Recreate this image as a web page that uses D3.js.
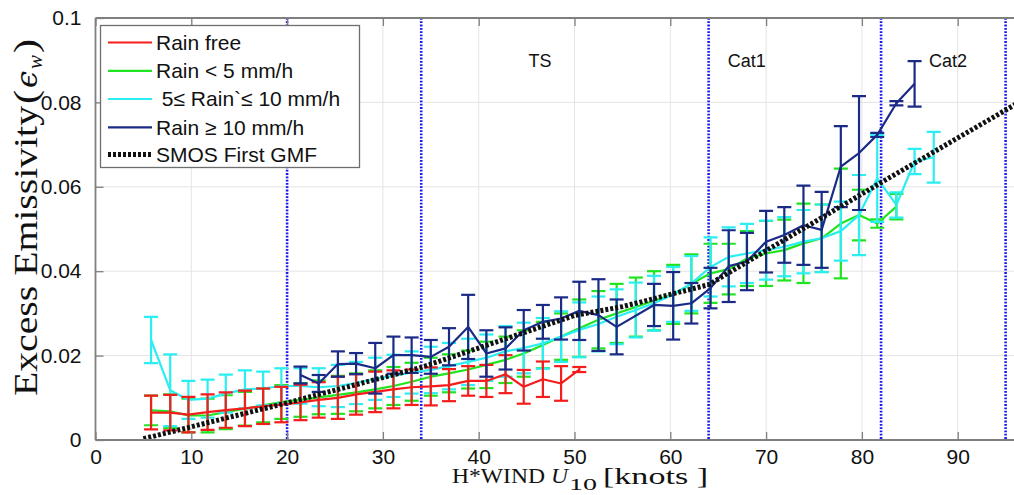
<!DOCTYPE html>
<html>
<head>
<meta charset="utf-8">
<script src="https://cdn.jsdelivr.net/npm/d3@7"></script>
<style>
  html, body { margin: 0; padding: 0; background: #fff; }
  svg { display: block; }
  text { white-space: pre; }
</style>
</head>
<body>
<svg id="chart" width="1014" height="495"></svg>
<script>
// ---------------- DATA ----------------
// wind-speed bins (knots)
const xKnots = [5.8, 7.8, 9.7, 11.7, 13.6, 15.6, 17.5, 19.4, 21.4, 23.3, 25.3, 27.2, 29.2, 31.1, 33.0,
  35.0, 36.9, 38.9, 40.8, 42.8, 44.7, 46.7, 48.6, 50.5, 52.5, 54.4, 56.4, 58.3, 60.3, 62.2,
  64.2, 66.1, 68.0, 70.0, 71.9, 73.9, 75.8, 77.8, 79.7, 81.6, 83.6, 85.5, 87.5];

const rainFreeX = xKnots.slice(0, 24);
const rainFreeVal = [0.0065, 0.0065, 0.0060, 0.0066, 0.0071, 0.0075, 0.0080, 0.0084, 0.0089, 0.0095,
  0.0100, 0.0108, 0.0114, 0.0120, 0.0125, 0.0127, 0.0130, 0.0140, 0.0140, 0.0156,
  0.0126, 0.0144, 0.0134, 0.0167];
const rainFreeErr = [0.0040, 0.0042, 0.0042, 0.0042, 0.0042, 0.0042, 0.0042, 0.0042, 0.0042, 0.0042,
  0.0050, 0.0048, 0.0048, 0.0045, 0.0042, 0.0045, 0.0038, 0.0035, 0.0038, 0.0045,
  0.0040, 0.0042, 0.0041, 0.0006];

const rainLt5X = xKnots.slice(0, 41);
const rainLt5Val = [0.0070, 0.0068, 0.0058, 0.0058, 0.0066, 0.0074, 0.0082, 0.0090, 0.0095, 0.0101,
  0.0107, 0.0113, 0.0120, 0.0128, 0.0138, 0.0150, 0.0158, 0.0167, 0.0178, 0.0190,
  0.0205, 0.0225, 0.0245, 0.0265, 0.0285, 0.0300, 0.0315, 0.0330, 0.0345, 0.0370,
  0.0395, 0.0405, 0.0430, 0.0442, 0.0450, 0.0466, 0.0478, 0.0513, 0.0533, 0.0513, 0.0553];
const rainLt5Err = [0.0035, 0.0040, 0.0040, 0.0040, 0.0040, 0.0040, 0.0040, 0.0040, 0.0040, 0.0040,
  0.0045, 0.0045, 0.0045, 0.0045, 0.0045, 0.0045, 0.0045, 0.0045, 0.0055, 0.0055,
  0.0055, 0.0055, 0.0055, 0.0068, 0.0068, 0.0070, 0.0070, 0.0070, 0.0070, 0.0070,
  0.0070, 0.0060, 0.0065, 0.0077, 0.0072, 0.0094, 0.0080, 0.0130, 0.0060, 0.0010, 0.0030];

const rain5to10X = xKnots.slice(0, 43);
const rain5to10Val = [0.0237, 0.0118, 0.0095, 0.0098, 0.0110, 0.0120, 0.0122, 0.0128, 0.0128, 0.0125,
  0.0128, 0.0135, 0.0145, 0.0152, 0.0160, 0.0166, 0.0175, 0.0185, 0.0195, 0.0210,
  0.0218, 0.0229, 0.0245, 0.0261, 0.0275, 0.0292, 0.0308, 0.0324, 0.0345, 0.0371,
  0.0410, 0.0434, 0.0442, 0.0450, 0.0458, 0.0470, 0.0478, 0.0495, 0.0533, 0.0620,
  0.0557, 0.0660, 0.0670];
const rain5to10Err = [0.0055, 0.0085, 0.0045, 0.0045, 0.0045, 0.0045, 0.0040, 0.0042, 0.0042, 0.0045,
  0.0050, 0.0050, 0.0050, 0.0050, 0.0050, 0.0055, 0.0055, 0.0055, 0.0055, 0.0060,
  0.0060, 0.0060, 0.0060, 0.0065, 0.0065, 0.0065, 0.0065, 0.0065, 0.0065, 0.0065,
  0.0070, 0.0070, 0.0070, 0.0070, 0.0070, 0.0075, 0.0080, 0.0070, 0.0095, 0.0103,
  0.0030, 0.0030, 0.0060];

const rainGe10X = [21.4, 23.3, 25.3, 27.2, 29.2, 31.1, 33.0, 35.0, 36.9, 38.9, 40.8, 42.8, 44.7, 46.7,
  48.6, 50.5, 52.5, 54.4, 58.3, 60.3, 62.2, 64.2, 66.1, 68.0, 70.0, 71.9, 73.9, 75.8, 77.8,
  79.7, 81.6, 83.6, 85.5];
const rainGe10Val = [0.0154, 0.0134, 0.0180, 0.0181, 0.0170, 0.0201, 0.0201, 0.0197, 0.0221, 0.0268,
  0.0205, 0.0217, 0.0260, 0.0280, 0.0288, 0.0306, 0.0296, 0.0268, 0.0320, 0.0318,
  0.0324, 0.0360, 0.0412, 0.0423, 0.0470, 0.0486, 0.0509, 0.0498, 0.0648, 0.0680,
  0.0723, 0.0798, 0.0844];
const rainGe10Err = [0.0020, 0.0020, 0.0030, 0.0025, 0.0060, 0.0044, 0.0042, 0.0040, 0.0044, 0.0076,
  0.0055, 0.0050, 0.0048, 0.0040, 0.0050, 0.0069, 0.0085, 0.0065, 0.0050, 0.0080,
  0.0048, 0.0048, 0.0085, 0.0068, 0.0073, 0.0066, 0.0094, 0.0090, 0.0096, 0.0135,
  0.0005, 0.0005, 0.0054];

const gmfX = [5, 20, 34, 50, 55, 64, 82, 96];
const gmfY = [0.0003, 0.0088, 0.0172, 0.0295, 0.0316, 0.0368, 0.0610, 0.0795];

const categoryBounds = [20, 34, 64, 82, 95];
const categoryLabels = ["TS", "Cat1", "Cat2"];
const categoryLabelX = [45.2, 66.0, 87.0];
const categoryLabelY = 0.0885;

const xTicks = [0, 10, 20, 30, 40, 50, 60, 70, 80, 90];
const yTicks = [0, 0.02, 0.04, 0.06, 0.08, 0.1];
const yTickLabels = ["0", "0.02", "0.04", "0.06", "0.08", "0.1"];

const legendLabels = ["Rain free", "Rain < 5 mm/h", " 5\u2264 Rain`\u2264 10 mm/h", "Rain \u2265 10 mm/h", "SMOS First GMF"];

// ---------------- LAYOUT ----------------
const svg = d3.select("#chart");
const pL = 95.5, pT = 18, pB = 440;
const x = d3.scaleLinear().domain([0, 96]).range([pL, pL + 96 * 9.58]);
const y = d3.scaleLinear().domain([0, 0.1]).range([pB, pT]);
const pR = x(96);

const sans = "'Liberation Sans', Arial, sans-serif";
const serif = "'Liberation Serif', 'Times New Roman', serif";
const axisGray = "#7f7f7f";

svg.append("defs").append("clipPath").attr("id", "plotclip")
  .append("rect").attr("x", pL).attr("y", pT - 1).attr("width", pR - pL).attr("height", pB - pT + 2);

// grid
const grid = svg.append("g");
grid.selectAll("line.gx").data(xTicks.filter(d => d > 0)).join("line")
  .attr("x1", d => x(d)).attr("x2", d => x(d)).attr("y1", pT).attr("y2", pB)
  .attr("stroke", "#e4e4e4").attr("stroke-width", 1);
grid.selectAll("line.gy").data(yTicks.filter(d => d > 0 && d < 0.1)).join("line")
  .attr("x1", pL).attr("x2", pR).attr("y1", d => y(d)).attr("y2", d => y(d))
  .attr("stroke", "#e4e4e4").attr("stroke-width", 1);

const plot = svg.append("g").attr("clip-path", "url(#plotclip)");

// category boundaries
plot.selectAll("line.cat").data(categoryBounds).join("line")
  .attr("x1", d => x(d)).attr("x2", d => x(d)).attr("y1", pT).attr("y2", pB)
  .attr("stroke", "#1a1aee").attr("stroke-width", 2.6).attr("stroke-dasharray", "1.8,1.5");

// series drawing
function drawSeries(xs, vals, errs, color) {
  const g = plot.append("g");
  const pts = xs.map((d, i) => ({ x: d, v: vals[i], e: errs[i] }));
  const line = d3.line().x(d => x(d.x)).y(d => y(d.v));
  g.append("path").datum(pts).attr("d", line)
    .attr("fill", "none").attr("stroke", color).attr("stroke-width", 2.2).attr("stroke-linejoin", "round");
  const cap = 7;
  const eb = g.selectAll("g.eb").data(pts).join("g");
  eb.append("line").attr("x1", d => x(d.x)).attr("x2", d => x(d.x))
    .attr("y1", d => y(d.v - d.e)).attr("y2", d => y(d.v + d.e))
    .attr("stroke", color).attr("stroke-width", 2.2);
  eb.append("line").attr("x1", d => x(d.x) - cap).attr("x2", d => x(d.x) + cap)
    .attr("y1", d => y(d.v + d.e)).attr("y2", d => y(d.v + d.e))
    .attr("stroke", color).attr("stroke-width", 2.2);
  eb.append("line").attr("x1", d => x(d.x) - cap).attr("x2", d => x(d.x) + cap)
    .attr("y1", d => y(d.v - d.e)).attr("y2", d => y(d.v - d.e))
    .attr("stroke", color).attr("stroke-width", 2.2);
}

const cRed = "#f51c1c", cGreen = "#1fe41f", cCyan = "#2aeef2", cNavy = "#1b2a86";
drawSeries(rainLt5X, rainLt5Val, rainLt5Err, cGreen);
drawSeries(rain5to10X, rain5to10Val, rain5to10Err, cCyan);
drawSeries(rainFreeX, rainFreeVal, rainFreeErr, cRed);
drawSeries(rainGe10X, rainGe10Val, rainGe10Err, cNavy);

// GMF
const gmfLine = d3.line().x((d, i) => x(gmfX[i])).y(d => y(d));
plot.append("path").datum(gmfY).attr("d", gmfLine)
  .attr("fill", "none").attr("stroke", "#111").attr("stroke-width", 5).attr("stroke-dasharray", "3,2");

// axes frame
svg.append("line").attr("x1", pL).attr("x2", pR).attr("y1", pB).attr("y2", pB).attr("stroke", axisGray).attr("stroke-width", 1.8);
svg.append("line").attr("x1", pL).attr("x2", pR).attr("y1", pT).attr("y2", pT).attr("stroke", axisGray).attr("stroke-width", 1.8);
svg.append("line").attr("x1", pL).attr("x2", pL).attr("y1", pT).attr("y2", pB).attr("stroke", axisGray).attr("stroke-width", 1.8);

// ticks
const xAxisB = d3.axisBottom(x).tickValues(xTicks).tickSize(-8).tickPadding(9).tickFormat(d3.format("d"));
const gxb = svg.append("g").attr("transform", `translate(0,${pB})`).call(xAxisB);
gxb.select(".domain").remove();
gxb.selectAll("line").attr("stroke", axisGray).attr("stroke-width", 1.3);
gxb.selectAll("text").attr("font-family", sans).attr("font-size", 21).attr("fill", "#111");

const xAxisT = d3.axisTop(x).tickValues(xTicks).tickSize(-8).tickFormat("");
const gxt = svg.append("g").attr("transform", `translate(0,${pT})`).call(xAxisT);
gxt.select(".domain").remove();
gxt.selectAll("line").attr("stroke", axisGray).attr("stroke-width", 1.3);

const yAxis = d3.axisLeft(y).tickValues(yTicks).tickSize(-8).tickPadding(14).tickFormat((d, i) => yTickLabels[i]);
const gy = svg.append("g").attr("transform", `translate(${pL},0)`).call(yAxis);
gy.select(".domain").remove();
gy.selectAll("line").attr("stroke", axisGray).attr("stroke-width", 1.3);
gy.selectAll("text").attr("font-family", sans).attr("font-size", 21).attr("fill", "#111");

// category labels
svg.selectAll("text.cat").data(categoryLabels).join("text")
  .attr("x", (d, i) => x(categoryLabelX[i])).attr("y", y(categoryLabelY))
  .attr("font-family", sans).attr("font-size", 18).attr("fill", "#111").text(d => d);

// x label
const xl = svg.append("g").attr("font-family", serif).attr("fill", "#111");
xl.append("text").attr("x", 452).attr("y", 483).attr("font-size", 22)
  .attr("textLength", 93).attr("lengthAdjust", "spacingAndGlyphs").text("H*WIND");
xl.append("text").attr("x", 551).attr("y", 483).attr("font-size", 22).attr("font-style", "italic")
  .attr("textLength", 17).attr("lengthAdjust", "spacingAndGlyphs").text("U");
xl.append("text").attr("x", 569).attr("y", 490).attr("font-size", 16)
  .attr("textLength", 28).attr("lengthAdjust", "spacingAndGlyphs").text("10");
xl.append("text").attr("x", 603).attr("y", 484).attr("font-size", 24)
  .attr("textLength", 105).attr("lengthAdjust", "spacingAndGlyphs").text("[knots ]");

// y label (rotated)
const yl = svg.append("g").attr("transform", "translate(37,396) rotate(-90)")
  .attr("font-family", serif).attr("fill", "#111");
yl.append("text").attr("x", 0).attr("y", 0).attr("font-size", 33)
  .attr("textLength", 290).attr("lengthAdjust", "spacingAndGlyphs").text("Excess Emissivity");
yl.append("text").attr("x", 292).attr("y", 0).attr("font-size", 33)
  .attr("textLength", 14).attr("lengthAdjust", "spacingAndGlyphs").text("(");
yl.append("text").attr("x", 308).attr("y", 0).attr("font-size", 30).attr("font-style", "italic")
  .attr("font-family", "'DejaVu Serif', serif")
  .attr("textLength", 17).attr("lengthAdjust", "spacingAndGlyphs").text("\u03f5");
yl.append("text").attr("x", 327).attr("y", 5).attr("font-size", 22).attr("font-style", "italic")
  .attr("textLength", 14).attr("lengthAdjust", "spacingAndGlyphs").text("w");
yl.append("text").attr("x", 343).attr("y", 0).attr("font-size", 33)
  .attr("textLength", 14).attr("lengthAdjust", "spacingAndGlyphs").text(")");

// legend
const lg = svg.append("g");
lg.append("rect").attr("x", 100.5).attr("y", 25.5).attr("width", 259).attr("height", 142)
  .attr("fill", "#fff").attr("stroke", "#6e6e6e").attr("stroke-width", 1.3);
const legColors = [cRed, cGreen, cCyan, cNavy, "#111"];
const rowY = [42.5, 70.8, 99, 127.3, 154.5];
legendLabels.forEach((lab, i) => {
  const ln = lg.append("line").attr("x1", 108).attr("x2", 152).attr("y1", rowY[i]).attr("y2", rowY[i])
    .attr("stroke", legColors[i]).attr("stroke-width", i === 4 ? 5 : 2.2);
  if (i === 4) ln.attr("stroke-dasharray", "3,2");
  lg.append("text").attr("x", 156).attr("y", rowY[i]).attr("dy", "0.35em")
    .attr("font-family", sans).attr("font-size", 21).attr("fill", "#111").text(lab);
});
</script>
</body>
</html>
